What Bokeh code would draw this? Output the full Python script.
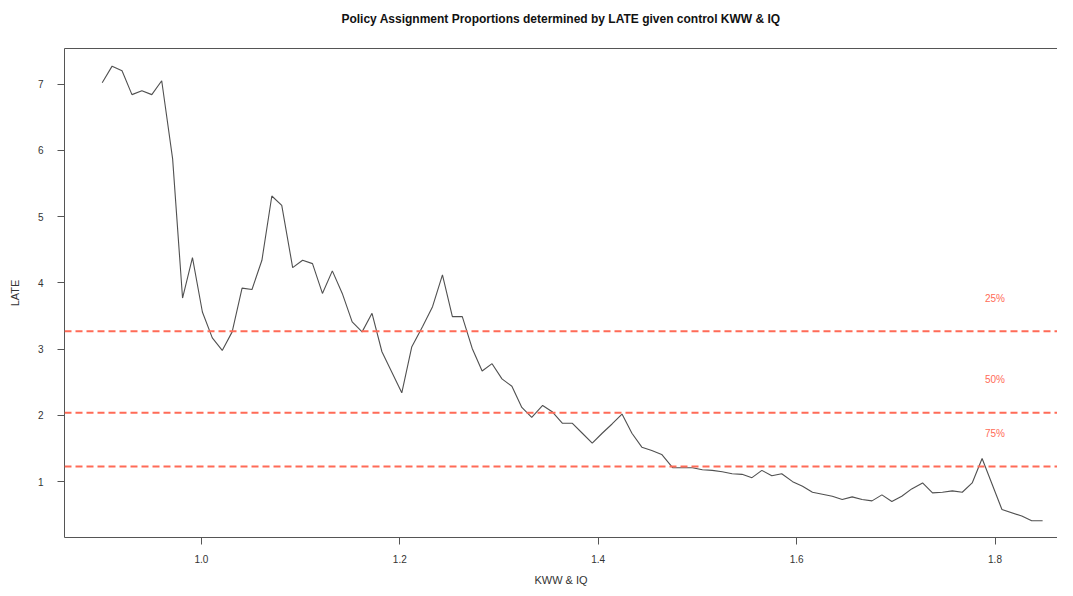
from bokeh.plotting import figure
from bokeh.models import Span, FixedTicker, LinearAxis, Range1d, NumeralTickFormatter
from bokeh.core.properties import value
from bokeh.embed import file_html
from bokeh.resources import INLINE

# ---- data ----
kww_iq = [0.900, 0.910, 0.920, 0.930, 0.940, 0.950, 0.960, 0.971, 0.981, 0.991,
          1.001, 1.011, 1.021, 1.031, 1.041, 1.051, 1.061, 1.071, 1.081, 1.092,
          1.102, 1.112, 1.122, 1.132, 1.142, 1.152, 1.162, 1.172, 1.182, 1.192,
          1.202, 1.212, 1.223, 1.233, 1.243, 1.253, 1.263, 1.273, 1.283, 1.293,
          1.303, 1.313, 1.323, 1.333, 1.344, 1.354, 1.364, 1.374, 1.384, 1.394,
          1.404, 1.414, 1.424, 1.434, 1.444, 1.454, 1.464, 1.475, 1.485, 1.495,
          1.505, 1.515, 1.525, 1.535, 1.545, 1.555, 1.565, 1.575, 1.585, 1.596,
          1.606, 1.616, 1.626, 1.636, 1.646, 1.656, 1.666, 1.676, 1.686, 1.696,
          1.706, 1.716, 1.727, 1.737, 1.747, 1.757, 1.767, 1.777, 1.787, 1.807,
          1.827, 1.837, 1.848]
late = [7.02, 7.27, 7.20, 6.84, 6.90, 6.84, 7.05, 5.87, 3.77, 4.38,
        3.56, 3.17, 2.98, 3.26, 3.92, 3.90, 4.34, 5.31, 5.17, 4.23,
        4.34, 4.29, 3.84, 4.18, 3.84, 3.41, 3.26, 3.54, 2.96, 2.65,
        2.34, 3.03, 3.34, 3.64, 4.12, 3.49, 3.49, 3.01, 2.67, 2.78,
        2.55, 2.44, 2.12, 1.97, 2.15, 2.05, 1.88, 1.88, 1.73, 1.58,
        1.73, 1.87, 2.02, 1.73, 1.52, 1.47, 1.41, 1.21, 1.21, 1.21,
        1.18, 1.17, 1.15, 1.12, 1.11, 1.06, 1.17, 1.09, 1.12, 1.00,
        0.93, 0.84, 0.81, 0.78, 0.73, 0.77, 0.73, 0.71, 0.80, 0.70,
        0.78, 0.89, 0.98, 0.83, 0.84, 0.86, 0.84, 0.98, 1.35, 0.58,
        0.48, 0.41, 0.41]
quantile_names = ["25%", "50%", "75%"]
quantile_values = [3.27, 2.04, 1.23]
quantile_label_x = 1.800
x_ticks = [1.0, 1.2, 1.4, 1.6, 1.8]
y_ticks = [1, 2, 3, 4, 5, 6, 7]
title_text = "Policy Assignment Proportions determined by LATE given control KWW & IQ"

FONT = "Liberation Sans"
RED = "#FF6B57"

p = figure(width=1057, height=588, output_backend="svg", toolbar_location=None,
           x_range=Range1d(0.862, 1.863), y_range=Range1d(0.157, 7.536),
           min_border_left=64, min_border_right=0, min_border_top=48, min_border_bottom=50)

p.xgrid.visible = False
p.ygrid.visible = False
p.outline_line_color = None
p.background_fill_color = "white"

for ax, ticks in ((p.xaxis[0], x_ticks), (p.yaxis[0], y_ticks)):
    ax.ticker = FixedTicker(ticks=ticks)
    ax.axis_line_color = "#555555"
    ax.major_tick_line_color = "#555555"
    ax.major_tick_out = 7
    ax.major_tick_in = 0
    ax.minor_tick_line_color = None
    ax.major_label_text_font = FONT
    ax.major_label_text_font_size = "10px"
    ax.major_label_text_color = "#333333"
    ax.axis_label_text_font = FONT
    ax.axis_label_text_font_size = "11px"
    ax.axis_label_text_font_style = "normal"
    ax.axis_label_text_color = "#333333"

p.xaxis[0].formatter = NumeralTickFormatter(format="0.0")
p.xaxis[0].axis_label = "KWW & IQ"
p.xaxis[0].major_label_standoff = 10
p.xaxis[0].axis_label_standoff = 8
p.yaxis[0].axis_label = "LATE"
p.yaxis[0].major_label_standoff = 14
p.yaxis[0].axis_label_standoff = 14

# top border of the box
top_axis = LinearAxis(ticker=FixedTicker(ticks=[]), axis_line_color="#555555",
                      major_tick_line_color=None, minor_tick_line_color=None,
                      major_tick_out=0, major_tick_in=0, major_label_standoff=0,
                      major_label_text_font_size="0px")
p.add_layout(top_axis, "above")

# invisible axis that carries the chart title, centred over the full plot box
title_axis = LinearAxis(ticker=FixedTicker(ticks=[]), axis_line_color=None,
                        bounds=(0.883, 1.863),
                        major_tick_line_color=None, minor_tick_line_color=None,
                        major_tick_out=0, major_tick_in=0, major_label_standoff=0,
                        major_label_text_font_size="0px",
                        axis_label=title_text, axis_label_standoff=23,
                        axis_label_text_font=FONT, axis_label_text_font_size="12px",
                        axis_label_text_font_style="bold", axis_label_text_color="#111111")
p.add_layout(title_axis, "above")

p.line(kww_iq, late, line_color="#505050", line_width=1.1)

for q in quantile_values:
    p.add_layout(Span(location=q, dimension="width", line_color=RED,
                      line_width=2, line_dash="7 4"))

p.text(x=[quantile_label_x] * len(quantile_values),
       y=[q + 0.5 for q in quantile_values], text=quantile_names,
       text_font=value(FONT), text_font_size="10px", text_color=RED,
       text_align="center", text_baseline="middle")

open("out.html", "w").write(file_html(p, INLINE))
